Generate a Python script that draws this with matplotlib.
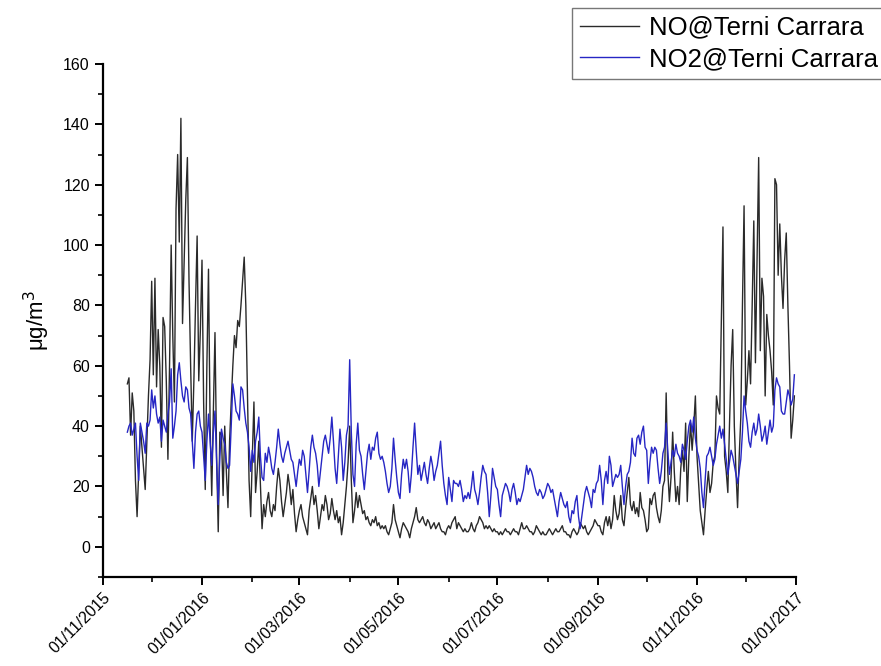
import matplotlib
matplotlib.use("Agg")
import matplotlib.pyplot as plt
import matplotlib.dates as mdates
from matplotlib.ticker import MultipleLocator
import pandas as pd

plt.rcParams['font.family'] = ['Liberation Sans', 'DejaVu Sans']

start_date = "2015-11-16"
series_labels = ["NO@Terni Carrara", "NO2@Terni Carrara"]
ylabel = "\u03bcg/m$^3$"

# Daily NO (black) by month
no_nov15 = [54, 56, 37, 51, 45, 22, 10, 25, 40, 33, 26, 19, 35, 50, 62]
no_dec15 = [88, 57, 89, 53, 72, 60, 33, 76, 73, 55, 29, 60, 100, 70, 48, 112, 130, 101, 142, 74,
            95, 115, 129, 88, 60, 35, 55, 80, 103, 55, 72]
no_jan16 = [95, 48, 19, 60, 92, 40, 17, 45, 71, 30, 5, 38, 37, 17, 40, 25, 13, 35, 48, 60,
            70, 66, 75, 73, 80, 88, 96, 80, 50, 22, 10]
no_feb16 = [30, 48, 18, 25, 35, 20, 6, 14, 10, 15, 18, 12, 10, 14, 12, 20, 26, 22, 15, 10,
            14, 18, 24, 20, 14, 19, 11, 5, 9]
no_mar16 = [12, 14, 10, 8, 6, 4, 12, 16, 20, 14, 17, 12, 6, 10, 14, 12, 17, 14, 9, 11,
            16, 12, 9, 12, 8, 10, 4, 8, 14, 20, 28]
no_apr16 = [40, 22, 8, 12, 18, 13, 17, 14, 11, 12, 9, 10, 8, 7, 9, 8, 10, 7, 8, 6,
            7, 6, 7, 5, 4, 6, 8, 14, 9, 7]
no_may16 = [5, 3, 6, 8, 7, 6, 5, 3, 6, 8, 10, 13, 9, 8, 9, 10, 8, 7, 9, 8,
            6, 7, 8, 6, 7, 8, 6, 5, 5, 4, 6]
no_jun16 = [7, 6, 8, 9, 10, 6, 8, 7, 6, 5, 6, 5, 5, 6, 8, 6, 5, 7, 8, 10,
            9, 8, 6, 7, 6, 7, 6, 5, 6, 5]
no_jul16 = [5, 4, 5, 4, 5, 6, 5, 5, 4, 5, 6, 5, 5, 4, 6, 8, 6, 6, 7, 6,
            5, 5, 4, 5, 7, 6, 5, 4, 5, 4, 4]
no_aug16 = [5, 6, 5, 4, 5, 6, 5, 5, 6, 7, 5, 5, 4, 4, 3, 5, 6, 5, 4, 5,
            8, 7, 6, 7, 5, 4, 5, 6, 7, 9, 8]
no_sep16 = [7, 7, 5, 4, 8, 10, 7, 10, 6, 9, 17, 12, 9, 11, 17, 9, 7, 13, 18, 23,
            14, 12, 15, 11, 13, 10, 18, 13, 12, 9]
no_oct16 = [5, 6, 16, 14, 17, 18, 13, 10, 8, 12, 20, 22, 51, 25, 15, 23, 38, 25, 15, 20,
            14, 26, 32, 25, 41, 15, 30, 41, 32, 40, 50]
no_nov16 = [30, 21, 12, 8, 4, 12, 19, 25, 18, 21, 28, 30, 50, 46, 44, 75, 106, 30, 25, 18,
            40, 60, 72, 40, 25, 13, 30, 43, 80, 113]
no_dec16 = [47, 55, 65, 54, 80, 108, 61, 95, 129, 65, 89, 83, 50, 77, 70, 65, 58, 47, 122, 120,
            90, 107, 90, 79, 95, 104, 80, 60, 36, 42, 50]

# Daily NO2 (blue) by month
no2_nov15 = [38, 40, 41, 37, 39, 41, 30, 22, 41, 38, 35, 31, 41, 40, 42]
no2_dec15 = [52, 46, 50, 44, 41, 43, 35, 42, 40, 38, 44, 48, 59, 36, 40, 45, 57, 61, 55, 50,
             48, 53, 52, 46, 44, 35, 26, 38, 44, 45, 40]
no2_jan16 = [38, 30, 22, 35, 44, 35, 27, 38, 45, 28, 14, 30, 39, 36, 34, 28, 26, 27, 40, 54,
             50, 45, 44, 42, 53, 52, 46, 41, 38, 33, 25]
no2_feb16 = [32, 28, 35, 38, 43, 30, 23, 22, 31, 28, 33, 30, 26, 24, 28, 33, 39, 34, 30, 28,
             31, 33, 35, 32, 29, 28, 24, 20, 25]
no2_mar16 = [29, 27, 32, 30, 24, 18, 25, 33, 37, 33, 31, 27, 20, 25, 30, 35, 37, 34, 31, 36,
             43, 35, 26, 21, 30, 39, 33, 22, 28, 37, 40]
no2_apr16 = [62, 38, 24, 20, 34, 41, 32, 30, 24, 19, 25, 31, 34, 29, 33, 32, 36, 38, 31, 29,
             30, 28, 25, 21, 18, 20, 26, 36, 29, 23]
no2_may16 = [18, 16, 24, 29, 26, 29, 25, 18, 24, 33, 41, 32, 24, 27, 22, 25, 28, 24, 21, 26,
             30, 27, 22, 25, 27, 31, 35, 27, 21, 17, 14]
no2_jun16 = [23, 19, 15, 22, 21, 21, 20, 22, 19, 15, 17, 16, 18, 16, 20, 25, 19, 17, 14, 18,
             23, 27, 25, 24, 18, 10, 17, 26, 23, 20]
no2_jul16 = [19, 14, 10, 17, 19, 21, 20, 18, 15, 19, 21, 18, 14, 16, 15, 17, 19, 23, 27, 24,
             26, 25, 23, 20, 18, 17, 19, 18, 16, 17, 19]
no2_aug16 = [21, 20, 18, 19, 16, 13, 10, 15, 18, 16, 14, 13, 15, 10, 8, 12, 11, 15, 17, 10,
             6, 10, 14, 18, 20, 18, 16, 13, 19, 18, 21]
no2_sep16 = [22, 27, 22, 14, 22, 25, 21, 30, 27, 20, 22, 24, 23, 24, 27, 20, 14, 20, 24, 25,
             28, 36, 31, 30, 36, 37, 34, 38, 40, 33]
no2_oct16 = [32, 21, 28, 33, 31, 33, 32, 26, 21, 25, 31, 33, 41, 32, 24, 28, 32, 30, 34, 31,
             30, 28, 34, 32, 29, 35, 40, 42, 38, 43, 36]
no2_nov16 = [32, 30, 26, 18, 13, 22, 30, 31, 33, 30, 27, 29, 34, 37, 40, 36, 39, 34, 29, 24,
             28, 32, 30, 27, 24, 21, 25, 29, 38, 50]
no2_dec16 = [45, 41, 35, 33, 38, 41, 37, 39, 44, 40, 35, 37, 40, 34, 38, 42, 38, 40, 52, 56,
             54, 53, 45, 44, 44, 48, 52, 50, 47, 49, 57]

no_values = (no_nov15 + no_dec15 + no_jan16 + no_feb16 + no_mar16 + no_apr16 + no_may16 +
             no_jun16 + no_jul16 + no_aug16 + no_sep16 + no_oct16 + no_nov16 + no_dec16)
no2_values = (no2_nov15 + no2_dec15 + no2_jan16 + no2_feb16 + no2_mar16 + no2_apr16 + no2_may16 +
              no2_jun16 + no2_jul16 + no2_aug16 + no2_sep16 + no2_oct16 + no2_nov16 + no2_dec16)
dates = pd.date_range(start_date, periods=len(no_values), freq="D")

fig = plt.figure(figsize=(8.81, 6.66), dpi=100)
ax = fig.add_axes([103/881, 89/666, 693/881, 513/666])

ax.plot(dates, no_values, color="#2a2a2a", lw=1.0, label=series_labels[0])
ax.plot(dates, no2_values, color="#2626c4", lw=1.0, label=series_labels[1])

ax.set_xlim(pd.Timestamp("2015-11-01"), pd.Timestamp("2017-01-01"))
ax.set_ylim(-10, 160)

ax.xaxis.set_major_locator(mdates.MonthLocator(bymonth=[1, 3, 5, 7, 9, 11]))
ax.xaxis.set_minor_locator(mdates.MonthLocator())
ax.xaxis.set_major_formatter(mdates.DateFormatter("%d/%m/%Y"))
ax.yaxis.set_major_locator(MultipleLocator(20))
ax.yaxis.set_minor_locator(MultipleLocator(10))

for s in ["top", "right"]:
    ax.spines[s].set_visible(False)
for s in ["left", "bottom"]:
    ax.spines[s].set_linewidth(1.6)

ax.tick_params(axis="both", which="major", direction="out", length=6, width=1.4, labelsize=11.5)
ax.tick_params(axis="both", which="minor", direction="out", length=3.5, width=1.2)
plt.setp(ax.get_xticklabels(), rotation=45, ha="right", rotation_mode="anchor")

ax.set_ylabel(ylabel, fontsize=16, labelpad=8)

leg = fig.legend(loc="upper left", bbox_to_anchor=(572/881, 1 - 8/666), fontsize=18.5,
                 frameon=True, fancybox=False, handlelength=2.3, borderpad=0.3,
                 labelspacing=0.3, handletextpad=0.4, borderaxespad=0)
leg.get_frame().set_edgecolor("#555555")
leg.get_frame().set_linewidth(1.0)

fig.savefig("out.png", dpi=100)
